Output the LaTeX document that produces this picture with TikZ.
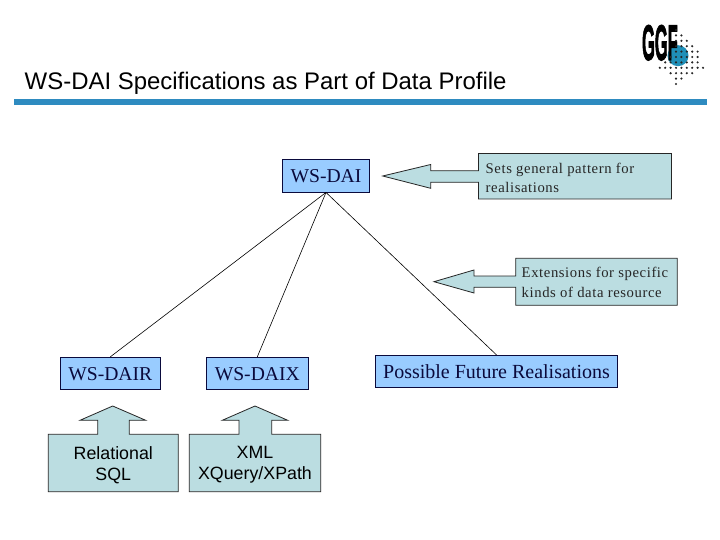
\documentclass[tikz,border=0pt]{standalone}
\usepackage{fontspec}
\setmainfont{Liberation Serif}
\newfontfamily\arialf{Liberation Sans}
\newfontfamily\arialb[FakeBold=2.5]{Liberation Sans Bold}
\newfontfamily\spacedserif[LetterSpace=4]{Liberation Serif}
\definecolor{spec}{HTML}{99CCFF}
\definecolor{note}{HTML}{BBDDE1}
\definecolor{bar}{HTML}{2E8BC0}
\definecolor{ink}{HTML}{0A0A3C}
\definecolor{globe}{HTML}{1F8FB8}
\tikzset{
  x=1pt,y=-1pt,
  spec/.style={draw=ink,line width=0.9pt,fill=spec,text=ink,font=\fontsize{19.6}{22}\selectfont,inner sep=0pt,anchor=center},
  lowered/.style={text height=15pt,text depth=0pt},
  callout/.style={draw=black!85,line width=0.8pt,fill=note,line join=miter},
  notetext/.style={font=\spacedserif\fontsize{14.7}{19.6}\selectfont,text=black!85,align=left,anchor=west,inner sep=0pt},
  sanstext/.style={font=\arialf\fontsize{17.8}{20.6}\selectfont,text=black,align=center,inner sep=0pt},
  link/.style={draw=black,line width=0.6pt},
}
\begin{document}
\begin{tikzpicture}
\useasboundingbox (0,0) rectangle (720,540);
\fill[white] (0,0) rectangle (720,540);
% title and bar
\node[font=\arialf\fontsize{23.95}{26}\selectfont,anchor=base west,inner sep=0pt,text=black] (title) at (24.5,90) {WS-DAI Specifications as Part of Data Profile};
\fill[bar] (14,99.5) rectangle (707,105.5);
% logo
\fill[globe] (678,55.7) circle (10.5);
\node[font=\arialb\fontsize{50}{50}\selectfont,text=black,inner sep=0pt,anchor=base west,xscale=0.33,transform shape] (logo) at (642,60) {GGF};
\foreach \yy/\a/\b in {30/0/0,35.4/0/1,40.8/0/2,46.2/0/3,51.6/0/4,57/-1/4,62.4/-2/4,67.8/-3/5,73.2/-1/3,78.6/0/1,84/0/0}
  \foreach \i in {\a,...,\b}
    \fill[black!85] ({676+5.4*\i},\yy) circle (1.2);
% connectors' nodes
\node[spec,lowered,minimum width=87pt,minimum height=33pt] (dai) at (326,175.5) {WS-DAI};
\node[spec,lowered,minimum width=100pt,minimum height=32pt] (dair) at (110.3,373.3) {WS-DAIR};
\node[spec,lowered,minimum width=102pt,minimum height=32pt] (daix) at (257.3,373.3) {WS-DAIX};
\node[spec,minimum width=242.4pt,minimum height=31.7pt,font=\fontsize{20}{22}\selectfont] (future) at (496.5,371.2) {Possible Future Realisations};
\draw[link] (dai.south) -- (dair.north);
\draw[link] (dai.south) -- (daix.north);
\draw[link] (dai.south) -- (future.north);
% callouts
\draw[callout] (478.5,153.5) -- (671.5,153.5) -- (671.5,199) -- (478.5,199) -- (478.5,182.3) -- (430.7,182.3) -- (430.7,188.3) -- (382.7,176) -- (430.7,164.5) -- (430.7,170.7) -- (478.5,170.7) -- cycle;
\node[notetext] (sets) at (485.5,178) {Sets general pattern for\\realisations};
\draw[callout] (515.7,258.3) -- (677.3,258.3) -- (677.3,305.3) -- (515.7,305.3) -- (515.7,287.3) -- (474,287.3) -- (474,293) -- (434,281.7) -- (474,270) -- (474,276) -- (515.7,276) -- cycle;
\node[notetext] (ext) at (521.5,282.5) {Extensions for specific\\kinds of data resource};
\draw[callout] (48.3,434.3) -- (97.7,434.3) -- (97.7,420.3) -- (80,420.3) -- (112.7,406) -- (145.7,420.3) -- (129.3,420.3) -- (129.3,434.3) -- (178.3,434.3) -- (178.3,491.7) -- (48.3,491.7) -- cycle;
\node[sanstext] (rel) at (113.3,465) {Relational\\SQL};
\draw[callout] (189.3,434.3) -- (239,434.3) -- (239,420.3) -- (222.3,420.3) -- (255,406) -- (287.7,420.3) -- (271.7,420.3) -- (271.7,434.3) -- (320.7,434.3) -- (320.7,491.7) -- (189.3,491.7) -- cycle;
\node[sanstext] (xml) at (255,465) {XML\\XQuery/XPath};
\end{tikzpicture}
\end{document}
